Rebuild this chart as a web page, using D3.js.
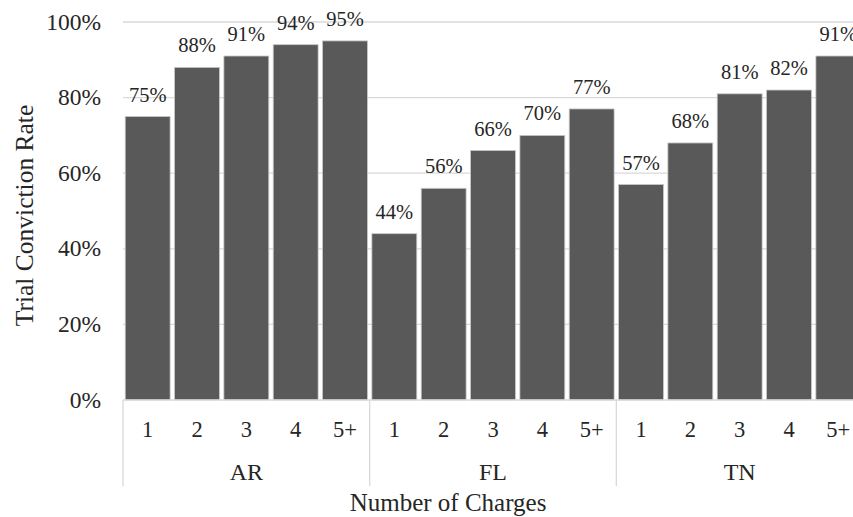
<!DOCTYPE html>
<html>
<head>
<meta charset="utf-8">
<script src="https://cdn.jsdelivr.net/npm/d3@7/dist/d3.min.js"></script>
<style>
  html, body { margin: 0; padding: 0; background: #fff; }
  svg text { font-family: "Liberation Serif", "DejaVu Serif", serif; }
</style>
</head>
<body>
<svg id="chart" width="853" height="517"></svg>
<script>
const states = ["AR", "FL", "TN"];
const charges = ["1", "2", "3", "4", "5+"];
const arValues = [0.75, 0.88, 0.91, 0.94, 0.95];
const flValues = [0.44, 0.56, 0.66, 0.70, 0.77];
const tnValues = [0.57, 0.68, 0.81, 0.82, 0.91];
const yTicks = [0, 0.2, 0.4, 0.6, 0.8, 1.0];
const yTitle = "Trial Conviction Rate";
const xTitle = "Number of Charges";

(function () {
const seriesByState = { AR: arValues, FL: flValues, TN: tnValues };
const rows = [];
states.forEach(s => charges.forEach((c, i) => rows.push({ state: s, charge: c, key: s + "|" + c, value: seriesByState[s][i] })));

const svg = d3.select("#chart");
const pLeft = 123, pRight = 863, pTop = 22, pBottom = 400;
const FF = "'Liberation Serif', 'DejaVu Serif', serif";

const x = d3.scaleBand().domain(rows.map(d => d.key)).range([pLeft, pRight])
  .paddingInner(0.09).paddingOuter(0.045);
const xGroup = d3.scaleBand().domain(states).range([pLeft, pRight]).padding(0);
const y = d3.scaleLinear().domain([0, 1]).range([pBottom, pTop]);

const gridColor = "#d9d9d9";

svg.append("g").selectAll("line").data(yTicks.filter(t => t > 0)).join("line")
  .attr("x1", pLeft).attr("x2", 853)
  .attr("y1", d => y(d)).attr("y2", d => y(d))
  .attr("stroke", gridColor).attr("stroke-width", 1.3);

svg.append("g").selectAll("text").data(yTicks).join("text")
  .attr("x", 101).attr("y", d => y(d) + 7.5)
  .attr("text-anchor", "end").attr("font-family", FF)
  .attr("font-size", 23.5).attr("fill", "#262626")
  .text(d => d3.format(".0%")(d));

svg.append("g").selectAll("rect").data(rows).join("rect")
  .attr("x", d => x(d.key)).attr("width", x.bandwidth())
  .attr("y", d => y(d.value)).attr("height", d => y(0) - y(d.value))
  .attr("fill", "#595959").attr("stroke", "#c8c8c8").attr("stroke-width", 0.8);

svg.append("g").selectAll("text").data(rows).join("text")
  .attr("x", d => x(d.key) + x.bandwidth() / 2)
  .attr("y", d => y(d.value) - 15)
  .attr("text-anchor", "middle").attr("font-family", FF)
  .attr("font-size", 20.5).attr("fill", "#262626")
  .text(d => d3.format(".0%")(d.value));

svg.append("line").attr("x1", pLeft).attr("x2", 853).attr("y1", pBottom).attr("y2", pBottom)
  .attr("stroke", gridColor).attr("stroke-width", 1.3);

const seps = states.map(s => xGroup(s)).concat([pRight]);
svg.append("g").selectAll("line").data(seps).join("line")
  .attr("x1", d => d).attr("x2", d => d)
  .attr("y1", pBottom).attr("y2", 486)
  .attr("stroke", gridColor).attr("stroke-width", 1.3);

svg.append("g").selectAll("text").data(rows).join("text")
  .attr("x", d => x(d.key) + x.bandwidth() / 2)
  .attr("y", 437)
  .attr("text-anchor", "middle").attr("font-family", FF)
  .attr("font-size", 22.5).attr("fill", "#262626")
  .text(d => d.charge);

svg.append("g").selectAll("text").data(states).join("text")
  .attr("x", d => xGroup(d) + xGroup.bandwidth() / 2)
  .attr("y", 480)
  .attr("text-anchor", "middle").attr("font-family", FF)
  .attr("font-size", 24).attr("fill", "#262626")
  .text(d => d);

svg.append("text").attr("x", 448).attr("y", 511)
  .attr("text-anchor", "middle").attr("font-family", FF)
  .attr("font-size", 25).attr("fill", "#262626")
  .text(xTitle);

svg.append("text").attr("transform", "translate(33,215.5) rotate(-90)")
  .attr("text-anchor", "middle").attr("font-family", FF)
  .attr("font-size", 25.5).attr("fill", "#262626")
  .text(yTitle);
})();
</script>
</body>
</html>
